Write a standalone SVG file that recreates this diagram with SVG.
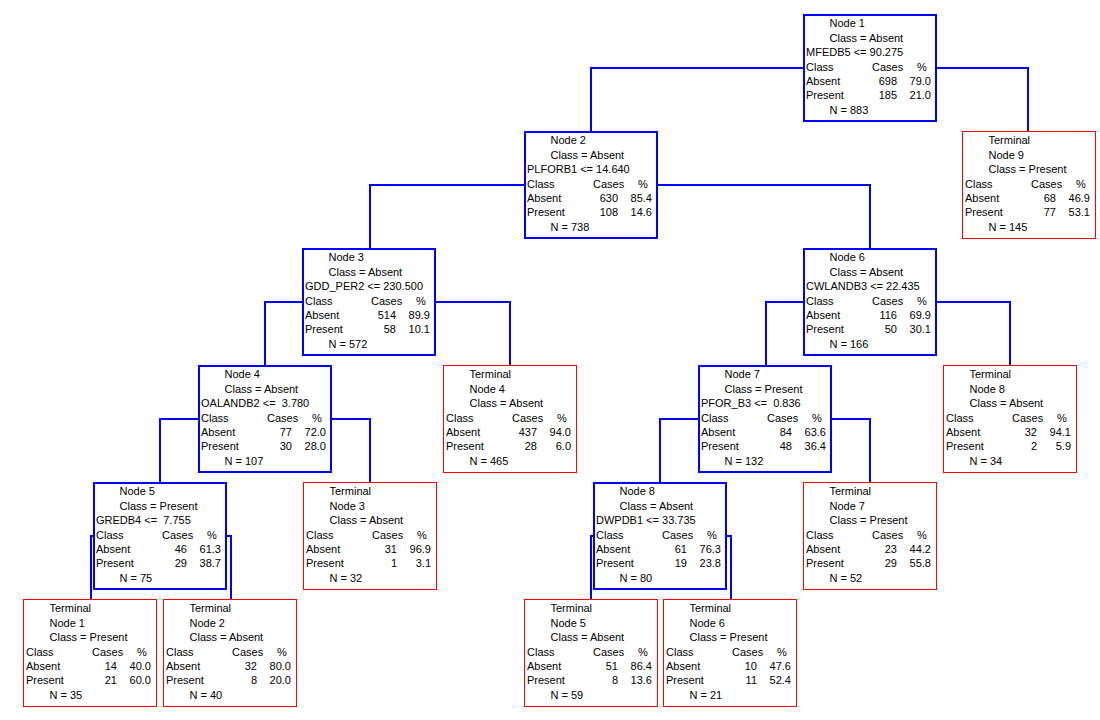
<svg xmlns="http://www.w3.org/2000/svg" width="1100" height="720" viewBox="0 0 1100 720">
<style>
text { font-family: "Liberation Sans", Arial, sans-serif; font-size: 11px; fill: #000; white-space: pre; }
.r { text-anchor: end; }
.nb { fill: #fff; stroke: #0000ff; stroke-width: 2; }
.tb { fill: #fff; stroke: #ff0000; stroke-width: 1; }
.c { fill: none; stroke: #0000ff; stroke-width: 2; }
</style>
<rect x="0" y="0" width="1100" height="720" fill="#fff"/>
<g id="connectors">
<path class="c" d="M591,131 V68 H1028 V131"/>
<path class="c" d="M370,248 V185 H870 V248"/>
<path class="c" d="M265,365 V302 H510 V365"/>
<path class="c" d="M766,365 V302 H1010 V365"/>
<path class="c" d="M160,482 V419 H370 V482"/>
<path class="c" d="M660,482 V419 H870 V482"/>
<path class="c" d="M91,599 V536 H231 V599"/>
<path class="c" d="M591,599 V536 H731 V599"/>
</g>

<g id="node1" transform="translate(803,14)">
<rect class="nb" x="1" y="1" width="132" height="106"/>
<text x="26.5" y="13">Node 1</text>
<text x="26.5" y="27.5">Class = Absent</text>
<text x="3" y="42">MFEDB5 &lt;= 90.275</text>
<text x="3" y="56.5">Class</text><text x="69" y="56.5">Cases</text><text x="114" y="56.5">%</text>
<text x="3" y="71">Absent</text><text class="r" x="94" y="71">698</text><text class="r" x="128" y="71">79.0</text>
<text x="3" y="85">Present</text><text class="r" x="94" y="85">185</text><text class="r" x="128" y="85">21.0</text>
<text x="26.5" y="99.5">N = 883</text>
</g>

<g id="terminal9" transform="translate(962,131)">
<rect class="tb" x="0.5" y="0.5" width="133" height="107"/>
<text x="26.5" y="13">Terminal</text>
<text x="26.5" y="27.5">Node 9</text>
<text x="26.5" y="42">Class = Present</text>
<text x="3" y="56.5">Class</text><text x="69" y="56.5">Cases</text><text x="114" y="56.5">%</text>
<text x="3" y="71">Absent</text><text class="r" x="94" y="71">68</text><text class="r" x="128" y="71">46.9</text>
<text x="3" y="85">Present</text><text class="r" x="94" y="85">77</text><text class="r" x="128" y="85">53.1</text>
<text x="26.5" y="99.5">N = 145</text>
</g>

<g id="node2" transform="translate(524,131)">
<rect class="nb" x="1" y="1" width="132" height="106"/>
<text x="26.5" y="13">Node 2</text>
<text x="26.5" y="27.5">Class = Absent</text>
<text x="3" y="42">PLFORB1 &lt;= 14.640</text>
<text x="3" y="56.5">Class</text><text x="69" y="56.5">Cases</text><text x="114" y="56.5">%</text>
<text x="3" y="71">Absent</text><text class="r" x="94" y="71">630</text><text class="r" x="128" y="71">85.4</text>
<text x="3" y="85">Present</text><text class="r" x="94" y="85">108</text><text class="r" x="128" y="85">14.6</text>
<text x="26.5" y="99.5">N = 738</text>
</g>

<g id="node3" transform="translate(302,248)">
<rect class="nb" x="1" y="1" width="132" height="106"/>
<text x="26.5" y="13">Node 3</text>
<text x="26.5" y="27.5">Class = Absent</text>
<text x="3" y="42">GDD_PER2 &lt;= 230.500</text>
<text x="3" y="56.5">Class</text><text x="69" y="56.5">Cases</text><text x="114" y="56.5">%</text>
<text x="3" y="71">Absent</text><text class="r" x="94" y="71">514</text><text class="r" x="128" y="71">89.9</text>
<text x="3" y="85">Present</text><text class="r" x="94" y="85">58</text><text class="r" x="128" y="85">10.1</text>
<text x="26.5" y="99.5">N = 572</text>
</g>

<g id="node6" transform="translate(803,248)">
<rect class="nb" x="1" y="1" width="132" height="106"/>
<text x="26.5" y="13">Node 6</text>
<text x="26.5" y="27.5">Class = Absent</text>
<text x="3" y="42">CWLANDB3 &lt;= 22.435</text>
<text x="3" y="56.5">Class</text><text x="69" y="56.5">Cases</text><text x="114" y="56.5">%</text>
<text x="3" y="71">Absent</text><text class="r" x="94" y="71">116</text><text class="r" x="128" y="71">69.9</text>
<text x="3" y="85">Present</text><text class="r" x="94" y="85">50</text><text class="r" x="128" y="85">30.1</text>
<text x="26.5" y="99.5">N = 166</text>
</g>

<g id="node4" transform="translate(198,365)">
<rect class="nb" x="1" y="1" width="132" height="106"/>
<text x="26.5" y="13">Node 4</text>
<text x="26.5" y="27.5">Class = Absent</text>
<text x="3" y="42">OALANDB2 &lt;=  3.780</text>
<text x="3" y="56.5">Class</text><text x="69" y="56.5">Cases</text><text x="114" y="56.5">%</text>
<text x="3" y="71">Absent</text><text class="r" x="94" y="71">77</text><text class="r" x="128" y="71">72.0</text>
<text x="3" y="85">Present</text><text class="r" x="94" y="85">30</text><text class="r" x="128" y="85">28.0</text>
<text x="26.5" y="99.5">N = 107</text>
</g>

<g id="terminal4" transform="translate(443,365)">
<rect class="tb" x="0.5" y="0.5" width="133" height="107"/>
<text x="26.5" y="13">Terminal</text>
<text x="26.5" y="27.5">Node 4</text>
<text x="26.5" y="42">Class = Absent</text>
<text x="3" y="56.5">Class</text><text x="69" y="56.5">Cases</text><text x="114" y="56.5">%</text>
<text x="3" y="71">Absent</text><text class="r" x="94" y="71">437</text><text class="r" x="128" y="71">94.0</text>
<text x="3" y="85">Present</text><text class="r" x="94" y="85">28</text><text class="r" x="128" y="85">6.0</text>
<text x="26.5" y="99.5">N = 465</text>
</g>

<g id="node7" transform="translate(698,365)">
<rect class="nb" x="1" y="1" width="132" height="106"/>
<text x="26.5" y="13">Node 7</text>
<text x="26.5" y="27.5">Class = Present</text>
<text x="3" y="42">PFOR_B3 &lt;=  0.836</text>
<text x="3" y="56.5">Class</text><text x="69" y="56.5">Cases</text><text x="114" y="56.5">%</text>
<text x="3" y="71">Absent</text><text class="r" x="94" y="71">84</text><text class="r" x="128" y="71">63.6</text>
<text x="3" y="85">Present</text><text class="r" x="94" y="85">48</text><text class="r" x="128" y="85">36.4</text>
<text x="26.5" y="99.5">N = 132</text>
</g>

<g id="terminal8" transform="translate(943,365)">
<rect class="tb" x="0.5" y="0.5" width="133" height="107"/>
<text x="26.5" y="13">Terminal</text>
<text x="26.5" y="27.5">Node 8</text>
<text x="26.5" y="42">Class = Absent</text>
<text x="3" y="56.5">Class</text><text x="69" y="56.5">Cases</text><text x="114" y="56.5">%</text>
<text x="3" y="71">Absent</text><text class="r" x="94" y="71">32</text><text class="r" x="128" y="71">94.1</text>
<text x="3" y="85">Present</text><text class="r" x="94" y="85">2</text><text class="r" x="128" y="85">5.9</text>
<text x="26.5" y="99.5">N = 34</text>
</g>

<g id="node5" transform="translate(93,482)">
<rect class="nb" x="1" y="1" width="132" height="106"/>
<text x="26.5" y="13">Node 5</text>
<text x="26.5" y="27.5">Class = Present</text>
<text x="3" y="42">GREDB4 &lt;=  7.755</text>
<text x="3" y="56.5">Class</text><text x="69" y="56.5">Cases</text><text x="114" y="56.5">%</text>
<text x="3" y="71">Absent</text><text class="r" x="94" y="71">46</text><text class="r" x="128" y="71">61.3</text>
<text x="3" y="85">Present</text><text class="r" x="94" y="85">29</text><text class="r" x="128" y="85">38.7</text>
<text x="26.5" y="99.5">N = 75</text>
</g>

<g id="terminal3" transform="translate(303,482)">
<rect class="tb" x="0.5" y="0.5" width="133" height="107"/>
<text x="26.5" y="13">Terminal</text>
<text x="26.5" y="27.5">Node 3</text>
<text x="26.5" y="42">Class = Absent</text>
<text x="3" y="56.5">Class</text><text x="69" y="56.5">Cases</text><text x="114" y="56.5">%</text>
<text x="3" y="71">Absent</text><text class="r" x="94" y="71">31</text><text class="r" x="128" y="71">96.9</text>
<text x="3" y="85">Present</text><text class="r" x="94" y="85">1</text><text class="r" x="128" y="85">3.1</text>
<text x="26.5" y="99.5">N = 32</text>
</g>

<g id="node8" transform="translate(593,482)">
<rect class="nb" x="1" y="1" width="132" height="106"/>
<text x="26.5" y="13">Node 8</text>
<text x="26.5" y="27.5">Class = Absent</text>
<text x="3" y="42">DWPDB1 &lt;= 33.735</text>
<text x="3" y="56.5">Class</text><text x="69" y="56.5">Cases</text><text x="114" y="56.5">%</text>
<text x="3" y="71">Absent</text><text class="r" x="94" y="71">61</text><text class="r" x="128" y="71">76.3</text>
<text x="3" y="85">Present</text><text class="r" x="94" y="85">19</text><text class="r" x="128" y="85">23.8</text>
<text x="26.5" y="99.5">N = 80</text>
</g>

<g id="terminal7" transform="translate(803,482)">
<rect class="tb" x="0.5" y="0.5" width="133" height="107"/>
<text x="26.5" y="13">Terminal</text>
<text x="26.5" y="27.5">Node 7</text>
<text x="26.5" y="42">Class = Present</text>
<text x="3" y="56.5">Class</text><text x="69" y="56.5">Cases</text><text x="114" y="56.5">%</text>
<text x="3" y="71">Absent</text><text class="r" x="94" y="71">23</text><text class="r" x="128" y="71">44.2</text>
<text x="3" y="85">Present</text><text class="r" x="94" y="85">29</text><text class="r" x="128" y="85">55.8</text>
<text x="26.5" y="99.5">N = 52</text>
</g>

<g id="terminal1" transform="translate(23,599)">
<rect class="tb" x="0.5" y="0.5" width="133" height="107"/>
<text x="26.5" y="13">Terminal</text>
<text x="26.5" y="27.5">Node 1</text>
<text x="26.5" y="42">Class = Present</text>
<text x="3" y="56.5">Class</text><text x="69" y="56.5">Cases</text><text x="114" y="56.5">%</text>
<text x="3" y="71">Absent</text><text class="r" x="94" y="71">14</text><text class="r" x="128" y="71">40.0</text>
<text x="3" y="85">Present</text><text class="r" x="94" y="85">21</text><text class="r" x="128" y="85">60.0</text>
<text x="26.5" y="99.5">N = 35</text>
</g>

<g id="terminal2" transform="translate(163,599)">
<rect class="tb" x="0.5" y="0.5" width="133" height="107"/>
<text x="26.5" y="13">Terminal</text>
<text x="26.5" y="27.5">Node 2</text>
<text x="26.5" y="42">Class = Absent</text>
<text x="3" y="56.5">Class</text><text x="69" y="56.5">Cases</text><text x="114" y="56.5">%</text>
<text x="3" y="71">Absent</text><text class="r" x="94" y="71">32</text><text class="r" x="128" y="71">80.0</text>
<text x="3" y="85">Present</text><text class="r" x="94" y="85">8</text><text class="r" x="128" y="85">20.0</text>
<text x="26.5" y="99.5">N = 40</text>
</g>

<g id="terminal5" transform="translate(524,599)">
<rect class="tb" x="0.5" y="0.5" width="133" height="107"/>
<text x="26.5" y="13">Terminal</text>
<text x="26.5" y="27.5">Node 5</text>
<text x="26.5" y="42">Class = Absent</text>
<text x="3" y="56.5">Class</text><text x="69" y="56.5">Cases</text><text x="114" y="56.5">%</text>
<text x="3" y="71">Absent</text><text class="r" x="94" y="71">51</text><text class="r" x="128" y="71">86.4</text>
<text x="3" y="85">Present</text><text class="r" x="94" y="85">8</text><text class="r" x="128" y="85">13.6</text>
<text x="26.5" y="99.5">N = 59</text>
</g>

<g id="terminal6" transform="translate(663,599)">
<rect class="tb" x="0.5" y="0.5" width="133" height="107"/>
<text x="26.5" y="13">Terminal</text>
<text x="26.5" y="27.5">Node 6</text>
<text x="26.5" y="42">Class = Present</text>
<text x="3" y="56.5">Class</text><text x="69" y="56.5">Cases</text><text x="114" y="56.5">%</text>
<text x="3" y="71">Absent</text><text class="r" x="94" y="71">10</text><text class="r" x="128" y="71">47.6</text>
<text x="3" y="85">Present</text><text class="r" x="94" y="85">11</text><text class="r" x="128" y="85">52.4</text>
<text x="26.5" y="99.5">N = 21</text>
</g>
</svg>
